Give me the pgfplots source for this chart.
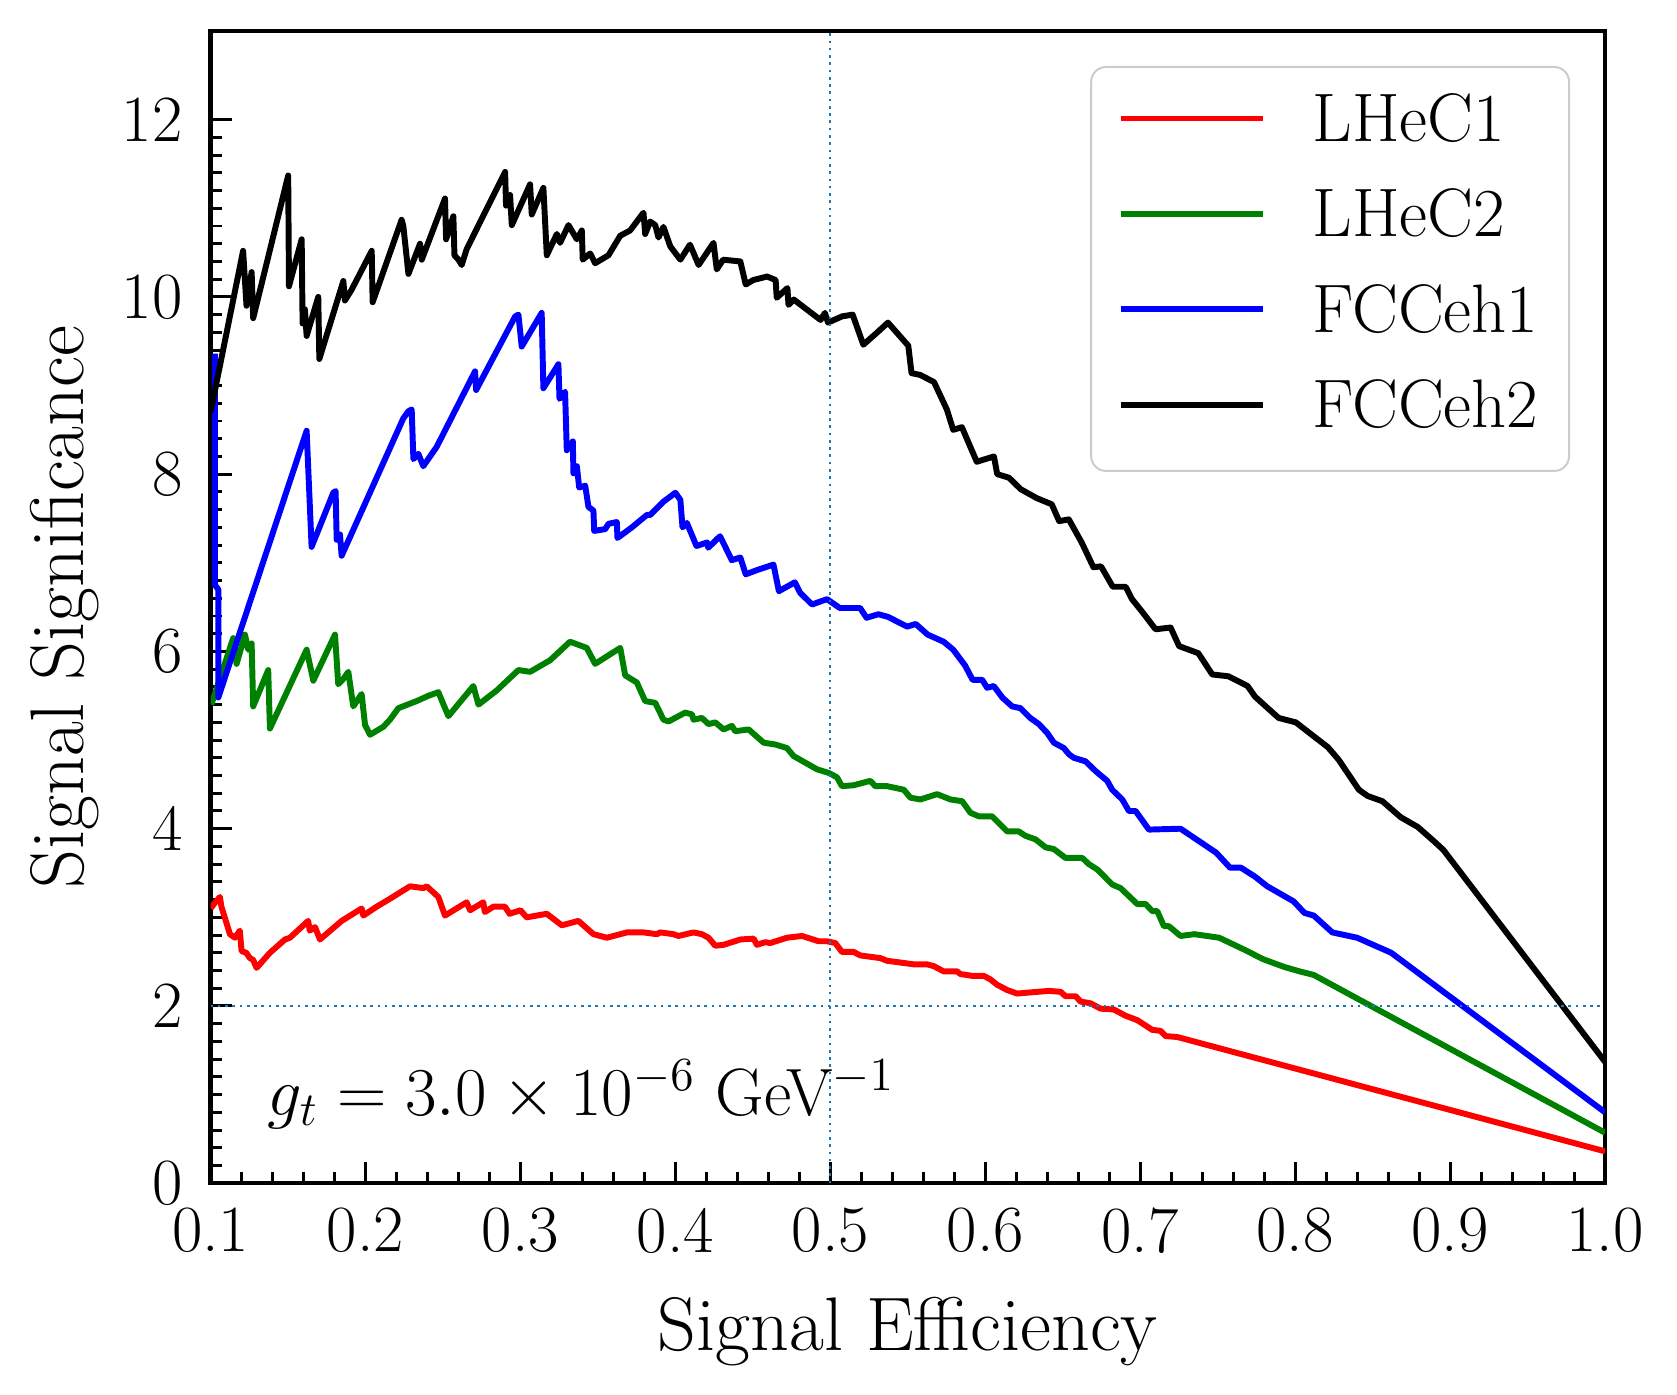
\documentclass[border=0pt]{standalone}
\usepackage{pgfplots}
\pgfplotsset{compat=1.18}
\definecolor{tabblue}{HTML}{1F77B4}
\definecolor{mplgreen}{HTML}{008000}
\begin{document}
\begin{tikzpicture}
\useasboundingbox (-63.8pt,-63.9pt) rectangle (444.3pt,358.5pt);
\begin{axis}[
  scale only axis, width=422.5pt, height=349.1pt,
  at={(0,0)}, anchor=south west,
  xmin=0.1, xmax=1.0, ymin=0, ymax=13,
  xtick={0.1,0.2,0.3,0.4,0.5,0.6,0.7,0.8,0.9,1.0},
  xticklabels={0.1,0.2,0.3,0.4,0.5,0.6,0.7,0.8,0.9,1.0},
  ytick={0,2,4,6,8,10,12},
  yticklabels={0,2,4,6,8,10,12},
  minor x tick num=4, minor y tick num=9,
  tick align=inside, tick pos=left,
  major tick length=6.5pt, minor tick length=3.5pt,
  every tick/.style={black, line width=0.9pt},
  axis line style={line width=1.3pt},
  tick label style={font=\fontsize{20}{24}\selectfont},
  xticklabel style={yshift=-4pt},
  yticklabel style={xshift=-5pt},
  label style={font=\fontsize{23}{27}\selectfont},
  xlabel={Signal Efficiency}, ylabel={Signal Significance},
  x label style={at={(axis description cs:0.5,0)}, anchor=base, yshift=-50.6pt},
  y label style={at={(axis description cs:0,0.5)}, anchor=base, yshift=38.4pt},
  legend style={at={(1,1)}, anchor=north east, xshift=-10.6pt, yshift=-10.6pt,
    draw=black!20, line width=0.6pt, rounded corners=4.5pt, fill=white,
    inner xsep=8.1pt, inner ysep=8.6pt, row sep=10.4pt, column sep=13pt,
    font=\fontsize{20.8}{25}\selectfont,
    nodes={inner ysep=0pt, inner xsep=1.2pt, text height=14pt, text depth=4.5pt}},
  legend cell align=left,
  legend image code/.code={\draw[#1] (0pt,2.25pt) -- (43pt,2.25pt);},
]
\addplot[red, line width=1.8pt, line join=round] coordinates {
(0.1000,3.10) (0.1017,3.14) (0.1060,3.23) (0.1070,3.12) (0.1125,2.81) (0.1157,2.77)
(0.1189,2.85) (0.1200,2.62) (0.1230,2.60) (0.1254,2.54) (0.1275,2.52) (0.1297,2.43)
(0.1383,2.60) (0.1480,2.75) (0.1512,2.77) (0.1630,2.96) (0.1640,2.85) (0.1674,2.89)
(0.1706,2.75) (0.1846,2.96) (0.1975,3.10) (0.1986,3.02) (0.2072,3.12) (0.2158,3.21)
(0.2287,3.35) (0.2373,3.33) (0.2395,3.35) (0.2470,3.23) (0.2513,3.02) (0.2653,3.17)
(0.2675,3.08) (0.2760,3.17) (0.2770,3.06) (0.2825,3.12) (0.2900,3.12) (0.2930,3.04)
(0.3000,3.08) (0.3040,3.00) (0.3170,3.04) (0.3267,2.91) (0.3374,2.96) (0.3471,2.81)
(0.3558,2.77) (0.3687,2.83) (0.3794,2.83) (0.3880,2.81) (0.3902,2.83) (0.3988,2.81)
(0.4020,2.79) (0.4117,2.83) (0.4171,2.81) (0.4214,2.77) (0.4257,2.68) (0.4311,2.69)
(0.4419,2.75) (0.4505,2.76) (0.4526,2.69) (0.4580,2.72) (0.4612,2.71) (0.4720,2.77)
(0.4817,2.79) (0.4925,2.73) (0.4978,2.73) (0.5032,2.71) (0.5075,2.61) (0.5150,2.61)
(0.5194,2.57) (0.5323,2.54) (0.5366,2.51) (0.5452,2.49) (0.5538,2.47) (0.5624,2.47)
(0.5667,2.45) (0.5732,2.39) (0.5818,2.39) (0.5840,2.36) (0.5915,2.34) (0.5990,2.34)
(0.6033,2.30) (0.6076,2.24) (0.6141,2.18) (0.6206,2.14) (0.6270,2.15) (0.6410,2.17)
(0.6486,2.16) (0.6518,2.11) (0.6583,2.11) (0.6615,2.05) (0.6680,2.03) (0.6744,1.97)
(0.6830,1.96) (0.6905,1.89) (0.6981,1.84) (0.7078,1.73) (0.7131,1.72) (0.7164,1.66)
(0.7239,1.65) (1.0000,0.36)
};
\addlegendentry{LHeC1}
\addplot[mplgreen, line width=1.8pt, line join=round] coordinates {
(0.1005,5.40) (0.1146,6.15) (0.1168,5.86) (0.1222,6.19) (0.1243,6.02) (0.1265,6.09)
(0.1275,5.38) (0.1372,5.79) (0.1383,5.13) (0.1620,6.02) (0.1663,5.67) (0.1803,6.19)
(0.1824,5.63) (0.1857,5.69) (0.1889,5.77) (0.1921,5.38) (0.1975,5.52) (0.1997,5.17)
(0.2029,5.06) (0.2115,5.15) (0.2158,5.23) (0.2212,5.36) (0.2330,5.44) (0.2406,5.50)
(0.2470,5.54) (0.2535,5.27) (0.2696,5.61) (0.2729,5.40) (0.2847,5.56) (0.2987,5.79)
(0.3062,5.77) (0.3191,5.90) (0.3320,6.11) (0.3428,6.04) (0.3482,5.86) (0.3644,6.04)
(0.3676,5.73) (0.3751,5.65) (0.3805,5.44) (0.3870,5.42) (0.3923,5.23) (0.3956,5.21)
(0.4063,5.31) (0.4107,5.29) (0.4117,5.23) (0.4171,5.25) (0.4214,5.18) (0.4257,5.20)
(0.4311,5.12) (0.4365,5.16) (0.4386,5.10) (0.4473,5.12) (0.4570,4.97) (0.4645,4.95)
(0.4720,4.91) (0.4763,4.82) (0.4914,4.67) (0.4989,4.63) (0.5043,4.58) (0.5075,4.48)
(0.5150,4.49) (0.5258,4.54) (0.5290,4.48) (0.5366,4.48) (0.5474,4.44) (0.5517,4.35)
(0.5581,4.33) (0.5689,4.39) (0.5775,4.33) (0.5851,4.31) (0.5904,4.18) (0.5958,4.14)
(0.6044,4.14) (0.6141,3.97) (0.6216,3.97) (0.6259,3.92) (0.6324,3.88) (0.6389,3.79)
(0.6443,3.77) (0.6518,3.67) (0.6626,3.67) (0.6669,3.60) (0.6723,3.54) (0.6820,3.37)
(0.6873,3.33) (0.6981,3.15) (0.7035,3.15) (0.7078,3.07) (0.7110,3.07) (0.7153,2.90)
(0.7185,2.90) (0.7260,2.79) (0.7350,2.81) (0.7510,2.77) (0.7690,2.62) (0.7790,2.53)
(0.7930,2.44) (0.8030,2.39) (0.8120,2.35) (1.0000,0.57)
};
\addlegendentry{LHeC2}
\addplot[blue, line width=1.8pt, line join=round] coordinates {
(0.1028,9.36) (0.1028,6.75) (0.1050,6.70) (0.1050,5.48) (0.1620,8.49) (0.1652,7.18)
(0.1792,7.79) (0.1807,7.81) (0.1814,7.26) (0.1835,7.32) (0.1846,7.08) (0.2244,8.63)
(0.2277,8.71) (0.2298,8.73) (0.2309,8.17) (0.2341,8.23) (0.2373,8.09) (0.2460,8.31)
(0.2707,9.16) (0.2714,8.95) (0.2966,9.78) (0.2987,9.80) (0.3008,9.44) (0.3137,9.82)
(0.3148,8.97) (0.3245,9.24) (0.3252,8.85) (0.3288,8.93) (0.3299,8.27) (0.3338,8.37)
(0.3342,8.01) (0.3364,8.09) (0.3379,7.85) (0.3418,7.87) (0.3439,7.63) (0.3471,7.59)
(0.3476,7.36) (0.3547,7.38) (0.3568,7.44) (0.3622,7.46) (0.3626,7.28) (0.3719,7.40)
(0.3816,7.54) (0.3837,7.54) (0.3923,7.69) (0.4000,7.79) (0.4032,7.71) (0.4046,7.40)
(0.4074,7.45) (0.4136,7.19) (0.4205,7.23) (0.4212,7.17) (0.4288,7.30) (0.4364,7.03)
(0.4419,7.06) (0.4454,6.87) (0.4530,6.92) (0.4633,6.98) (0.4668,6.68) (0.4771,6.78)
(0.4806,6.66) (0.4882,6.53) (0.4979,6.59) (0.5061,6.49) (0.5192,6.49) (0.5234,6.38)
(0.5310,6.42) (0.5372,6.39) (0.5496,6.28) (0.5551,6.31) (0.5628,6.19) (0.5731,6.11)
(0.5793,6.02) (0.5870,5.84) (0.5918,5.68) (0.5980,5.68) (0.6012,5.59) (0.6055,5.61)
(0.6110,5.48) (0.6173,5.38) (0.6227,5.36) (0.6290,5.25) (0.6346,5.18) (0.6400,5.08)
(0.6443,4.97) (0.6507,4.91) (0.6540,4.84) (0.6572,4.80) (0.6647,4.76) (0.6712,4.65)
(0.6787,4.54) (0.6819,4.44) (0.6884,4.33) (0.6927,4.20) (0.6970,4.20) (0.7056,3.99)
(0.7260,4.00) (0.7490,3.73) (0.7580,3.56) (0.7650,3.56) (0.7740,3.46) (0.7820,3.35)
(0.7910,3.26) (0.7990,3.18) (0.8060,3.05) (0.8120,3.02) (0.8240,2.83) (0.8400,2.77)
(0.8620,2.60) (1.0000,0.80)
};
\addlegendentry{FCCeh1}
\addplot[black, line width=1.8pt, line join=round] coordinates {
(0.1000,8.70) (0.1210,10.52) (0.1232,9.90) (0.1265,10.28) (0.1275,9.76) (0.1501,11.37)
(0.1506,10.12) (0.1588,10.65) (0.1594,9.70) (0.1609,9.86) (0.1620,9.56) (0.1695,10.00)
(0.1702,9.30) (0.1857,10.18) (0.1867,9.96) (0.1910,10.08) (0.2040,10.52) (0.2046,9.94)
(0.2233,10.87) (0.2244,10.80) (0.2277,10.26) (0.2352,10.60) (0.2363,10.42) (0.2513,11.11)
(0.2520,10.65) (0.2567,10.91) (0.2574,10.47) (0.2600,10.42) (0.2621,10.36) (0.2653,10.54)
(0.2901,11.41) (0.2907,11.03) (0.2933,11.15) (0.2944,10.81) (0.3062,11.27) (0.3073,10.93)
(0.3148,11.23) (0.3170,10.47) (0.3235,10.71) (0.3256,10.61) (0.3310,10.81) (0.3364,10.65)
(0.3396,10.75) (0.3402,10.42) (0.3450,10.49) (0.3482,10.38) (0.3568,10.47) (0.3644,10.69)
(0.3708,10.75) (0.3794,10.95) (0.3805,10.71) (0.3837,10.85) (0.3870,10.81) (0.3891,10.67)
(0.3923,10.79) (0.3967,10.57) (0.4032,10.42) (0.4094,10.59) (0.4150,10.36) (0.4246,10.61)
(0.4267,10.31) (0.4308,10.42) (0.4419,10.40) (0.4454,10.14) (0.4502,10.19) (0.4592,10.23)
(0.4647,10.19) (0.4654,9.99) (0.4723,10.10) (0.4730,9.91) (0.4764,9.97) (0.4937,9.74)
(0.4965,9.82) (0.4985,9.71) (0.5075,9.78) (0.5144,9.80) (0.5213,9.46) (0.5303,9.60)
(0.5372,9.71) (0.5503,9.45) (0.5524,9.14) (0.5579,9.12) (0.5669,9.04) (0.5752,8.73)
(0.5793,8.50) (0.5849,8.53) (0.5945,8.14) (0.6056,8.20) (0.6077,8.00) (0.6153,7.96)
(0.6229,7.83) (0.6332,7.73) (0.6429,7.66) (0.6477,7.47) (0.6539,7.49) (0.6622,7.23)
(0.6698,6.95) (0.6747,6.96) (0.6823,6.73) (0.6906,6.73) (0.6947,6.59) (0.7016,6.44)
(0.7099,6.25) (0.7196,6.27) (0.7251,6.06) (0.7375,5.98) (0.7465,5.74) (0.7569,5.72)
(0.7693,5.61) (0.7741,5.49) (0.7893,5.25) (0.8004,5.20) (0.8211,4.92) (0.8280,4.78)
(0.8411,4.44) (0.8467,4.37) (0.8563,4.31) (0.8681,4.13) (0.8791,4.02) (0.8895,3.86)
(0.8957,3.76) (1.0000,1.37)
};
\addlegendentry{FCCeh2}
\addplot[tabblue, line width=0.7pt, dash pattern=on 0.8pt off 1.4pt, forget plot] coordinates {(0.5,0) (0.5,13)};
\addplot[tabblue, line width=0.7pt, dash pattern=on 0.8pt off 1.4pt, forget plot] coordinates {(0.1,2) (1.0,2)};
\node[anchor=base west, inner sep=0pt, font=\fontsize{20.3}{24}\selectfont, xshift=17.1pt, yshift=20.5pt] at (rel axis cs:0,0) {$g_t = 3.0\times10^{-6}$ GeV$^{-1}$};
\end{axis}
\end{tikzpicture}
\end{document}
